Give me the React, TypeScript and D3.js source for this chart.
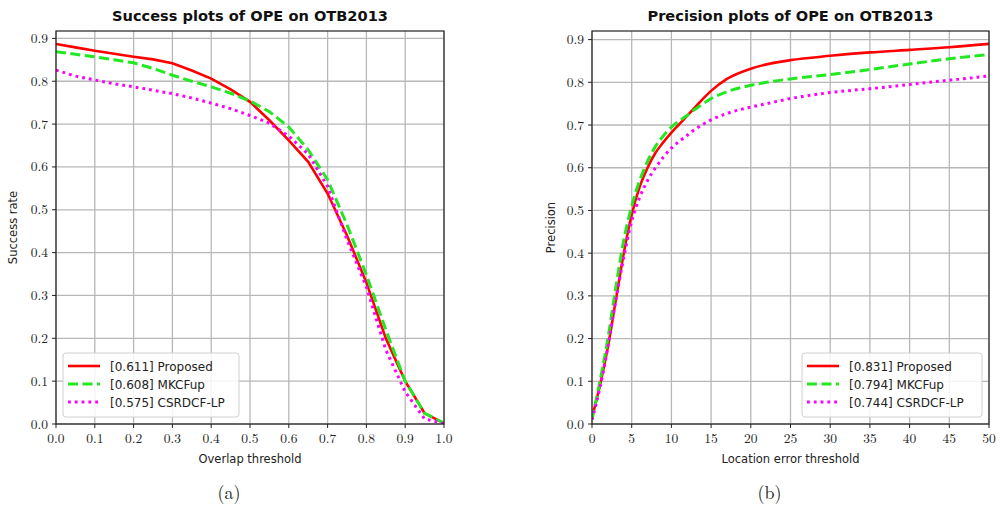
import React from "react";
import * as d3 from "d3";

// success plot (overlap threshold 0..1, step 0.05)
const overlapX = [0, 0.05, 0.1, 0.15, 0.2, 0.25, 0.3, 0.35, 0.4, 0.45, 0.5, 0.55, 0.6, 0.65, 0.7, 0.75, 0.8, 0.85, 0.9, 0.95, 1.0];
const successProposed = [0.887, 0.879, 0.871, 0.864, 0.857, 0.851, 0.842, 0.825, 0.806, 0.781, 0.752, 0.709, 0.662, 0.612, 0.538, 0.44, 0.33, 0.2, 0.1, 0.025, 0.002];
const successMKCFup = [0.869, 0.863, 0.857, 0.85, 0.843, 0.83, 0.814, 0.8, 0.787, 0.772, 0.754, 0.729, 0.693, 0.64, 0.57, 0.465, 0.348, 0.22, 0.1, 0.025, 0.002];
const successCSRDCF = [0.826, 0.812, 0.803, 0.794, 0.787, 0.779, 0.771, 0.761, 0.749, 0.736, 0.72, 0.702, 0.672, 0.63, 0.555, 0.43, 0.32, 0.173, 0.075, 0.012, 0.001];

// precision plot (location error threshold 0..50)
const errorX = [0, 1, 2, 3, 4, 5, 6, 7, 8, 9, 10, 11, 12, 13, 14, 15, 17, 20, 22, 25, 30, 35, 40, 45, 50];
const precProposed = [0.015, 0.09, 0.18, 0.29, 0.4, 0.49, 0.555, 0.6, 0.635, 0.66, 0.682, 0.702, 0.722, 0.742, 0.762, 0.78, 0.808, 0.832, 0.842, 0.852, 0.862, 0.87, 0.876, 0.882, 0.89];
const precMKCFup = [0.01, 0.1, 0.2, 0.32, 0.43, 0.51, 0.57, 0.615, 0.65, 0.675, 0.695, 0.71, 0.723, 0.737, 0.75, 0.762, 0.778, 0.793, 0.8, 0.808, 0.818, 0.83, 0.843, 0.855, 0.865];
const precCSRDCF = [0.01, 0.085, 0.18, 0.29, 0.39, 0.475, 0.53, 0.57, 0.6, 0.625, 0.646, 0.662, 0.676, 0.69, 0.702, 0.712, 0.727, 0.742, 0.75, 0.762, 0.776, 0.785, 0.795, 0.805, 0.815];

const successLegend = ["[0.611] Proposed", "[0.608] MKCFup", "[0.575] CSRDCF-LP"];
const precisionLegend = ["[0.831] Proposed", "[0.794] MKCFup", "[0.744] CSRDCF-LP"];

const yTicks = [0, 0.1, 0.2, 0.3, 0.4, 0.5, 0.6, 0.7, 0.8, 0.9];
const overlapTicks = [0, 0.1, 0.2, 0.3, 0.4, 0.5, 0.6, 0.7, 0.8, 0.9, 1.0];
const errorTicks = [0, 5, 10, 15, 20, 25, 30, 35, 40, 45, 50];

const styles = [
  { color: "#ff0000", dash: "none", width: 2.6 },
  { color: "#22e822", dash: "10,4.5", width: 3 },
  { color: "#ff00ff", dash: "2.8,4", width: 3 },
];

const serif = "'Latin Modern Roman', 'CMU Serif', 'Liberation Serif', 'DejaVu Serif', serif";
const sans = "'DejaVu Sans', 'Noto Sans', sans-serif";

type PanelProps = {
  id: string;
  x0: number; x1: number; yTop: number; yBottom: number; y09: number;
  xDomain: [number, number];
  xTicks: number[];
  fmtX: (v: number) => string;
  xs: number[];
  series: number[][];
  labels: string[];
  title: string;
  xLabel: string;
  yLabel: string;
  yLabelX: number;
  legendX: number;
  legendW: number;
  smooth: boolean;
  caption: string;
};

function Panel(p: PanelProps) {
  const x = d3.scaleLinear().domain(p.xDomain).range([p.x0, p.x1]);
  const y = d3.scaleLinear().domain([0, 0.9]).range([p.yBottom, p.y09]);
  const line = d3.line<number>()
    .x((_, i) => x(p.xs[i]))
    .y((d) => y(d))
    .curve(p.smooth ? d3.curveMonotoneX : d3.curveLinear);
  const cx = (p.x0 + p.x1) / 2;
  const legY = 353;
  return (
    <g>
      <defs>
        <clipPath id={p.id}>
          <rect x={p.x0} y={p.yTop} width={p.x1 - p.x0} height={p.yBottom - p.yTop} />
        </clipPath>
      </defs>
      <rect x={p.x0} y={p.yTop} width={p.x1 - p.x0} height={p.yBottom - p.yTop} fill="#fff" />
      {p.xTicks.map((t) => (
        <line key={"gx" + t} x1={x(t)} x2={x(t)} y1={p.yTop} y2={p.yBottom} stroke="#b8b8b8" strokeWidth={1.3} />
      ))}
      {yTicks.map((t) => (
        <line key={"gy" + t} x1={p.x0} x2={p.x1} y1={y(t)} y2={y(t)} stroke="#b8b8b8" strokeWidth={1.3} />
      ))}
      <g clipPath={`url(#${p.id})`}>
        {p.series.map((s, i) => (
          <path key={i} d={line(s) || ""} fill="none" stroke={styles[i].color}
            strokeWidth={styles[i].width} strokeDasharray={styles[i].dash} />
        ))}
      </g>
      <rect x={p.x0} y={p.yTop} width={p.x1 - p.x0} height={p.yBottom - p.yTop} fill="none" stroke="#222" strokeWidth={1.2} />
      {p.xTicks.map((t) => (
        <g key={"tx" + t}>
          <line x1={x(t)} x2={x(t)} y1={p.yBottom} y2={p.yBottom + 4} stroke="#222" strokeWidth={1} />
          <text x={x(t)} y={p.yBottom + 19} textAnchor="middle" fontFamily={serif} fontSize={13.5} fill="#222">{p.fmtX(t)}</text>
        </g>
      ))}
      {yTicks.map((t) => (
        <g key={"ty" + t}>
          <line x1={p.x0 - 4} x2={p.x0} y1={y(t)} y2={y(t)} stroke="#222" strokeWidth={1} />
          <text x={p.x0 - 8} y={y(t) + 4.5} textAnchor="end" fontFamily={serif} fontSize={13.5} fill="#222">{t.toFixed(1)}</text>
        </g>
      ))}
      <text x={cx} y={21} textAnchor="middle" fontFamily={sans} fontWeight="bold" fontSize={14.6} fill="#111">{p.title}</text>
      <text x={cx} y={463} textAnchor="middle" fontFamily={sans} fontSize={11.5} fill="#222">{p.xLabel}</text>
      <text transform={`translate(${p.yLabelX},${(p.yTop + p.yBottom) / 2}) rotate(-90)`} textAnchor="middle"
        fontFamily={sans} fontSize={11.5} fill="#222">{p.yLabel}</text>
      <rect x={p.legendX} y={legY} width={p.legendW} height={64} rx={3} fill="#fff" fillOpacity={0.85} stroke="#d0d0d0" strokeWidth={1} />
      {p.labels.map((lab, i) => {
        const ly = 366 + i * 18;
        return (
          <g key={lab}>
            <line x1={p.legendX + 5} x2={p.legendX + 37} y1={ly} y2={ly} stroke={styles[i].color}
              strokeWidth={styles[i].width} strokeDasharray={styles[i].dash} />
            <text x={p.legendX + 47} y={ly + 4.5} fontFamily={sans} fontSize={12} fill="#222">{lab}</text>
          </g>
        );
      })}
      <text x={cx - 21} y={499} textAnchor="middle" fontFamily={serif} fontSize={18} fill="#222">{p.caption}</text>
    </g>
  );
}

export default function App() {
  return (
    <svg width={1000} height={507} style={{ display: "block", position: "absolute", left: 0, top: 0, background: "#fff" }}>
      <Panel id="clipA" x0={56} x1={444} yTop={31} yBottom={424} y09={38.4}
        xDomain={[0, 1]} xTicks={overlapTicks} fmtX={(v) => v.toFixed(1)}
        xs={overlapX} series={[successProposed, successMKCFup, successCSRDCF]} labels={successLegend}
        title="Success plots of OPE on OTB2013" xLabel="Overlap threshold" yLabel="Success rate" yLabelX={17}
        legendX={63} legendW={176} smooth={false} caption="(a)" />
      <Panel id="clipB" x0={592} x1={989} yTop={31} yBottom={424} y09={39.6}
        xDomain={[0, 50]} xTicks={errorTicks} fmtX={(v) => String(v)}
        xs={errorX} series={[precProposed, precMKCFup, precCSRDCF]} labels={precisionLegend}
        title="Precision plots of OPE on OTB2013" xLabel="Location error threshold" yLabel="Precision" yLabelX={555}
        legendX={802} legendW={180} smooth={true} caption="(b)" />
    </svg>
  );
}
